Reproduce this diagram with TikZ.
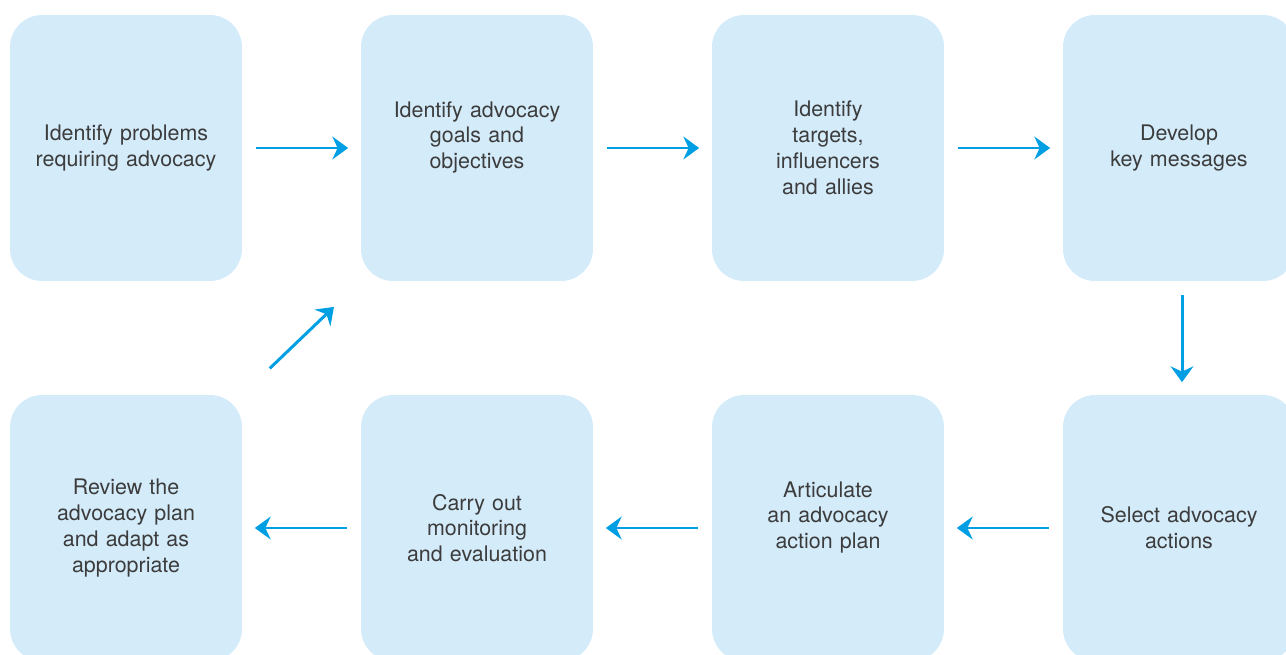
\documentclass[tikz,border=0pt]{standalone}
\usepackage{fontspec}
\setmainfont{TeX Gyre Heros}
\usetikzlibrary{arrows.meta}
\definecolor{boxblue}{HTML}{D4EBFA}
\definecolor{arrowblue}{HTML}{009FE3}
\definecolor{textgrey}{HTML}{3C3C3C}

\begin{document}
\begin{tikzpicture}[x=0.02cm, y=-0.02cm,
    stage/.style={fill=boxblue, rounded corners=0.64cm, minimum width=4.64cm,
        minimum height=5.32cm, text width=4.2cm, align=center, text=textgrey,
        font=\fontsize{12.2}{14.7}\selectfont},
    flow/.style={arrowblue, line width=1.7pt, -{Stealth[length=9pt,width=13pt,inset=3pt]},
        shorten <=0.28cm, shorten >=0.25cm}]
    \useasboundingbox (0,0) rectangle (1286,655);
    \clip (0,0) rectangle (1286,655);

    % --- Top row ---
    \node[stage] (problems) at (126,148) {Identify problems\\requiring advocacy};
    \node[stage] (goals) at (477,148) {Identify advocacy\\goals and\\objectives\\ \mbox{}};
    \node[stage] (targets) at (828,148) {Identify\\targets,\\influencers\\and allies};
    \node[stage] (messages) at (1179,148) {Develop\\key messages};

    % --- Bottom row ---
    \node[stage] (actions) at (1179,528) {Select advocacy\\actions};
    \node[stage] (plan) at (828,528) {Articulate\\an advocacy\\action plan\\ \mbox{}};
    \node[stage] (monitor) at (477,528) {Carry out\\monitoring\\and evaluation};
    \node[stage] (review) at (126,528) {Review the\\advocacy plan\\and adapt as\\appropriate};

    % Arrows
    \draw[flow] (problems) -- (goals);
    \draw[flow] (goals) -- (targets);
    \draw[flow] (targets) -- (messages);
    \draw[flow] ([xshift=3*0.02cm]messages.south) -- ([xshift=3*0.02cm]actions.north);
    \draw[flow] (actions) -- (plan);
    \draw[flow] (plan) -- (monitor);
    \draw[flow] (monitor) -- (review);
    \draw[flow, shorten <=0.76cm, shorten >=0.74cm] (review.north east) -- (goals.south west);
\end{tikzpicture}
\end{document}
